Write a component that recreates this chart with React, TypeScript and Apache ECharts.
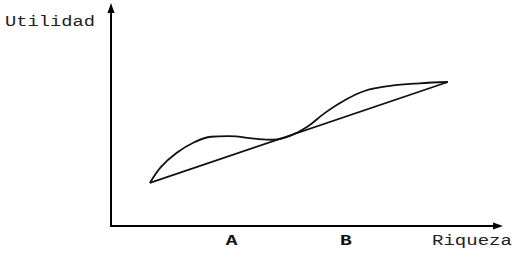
import React, { useEffect, useRef } from "react";
import * as echarts from "echarts";

// Utility curve (wealth, utility)
const curveWealth = [10.1, 13.0, 17.0, 21.5, 26.0, 30.5, 37.9, 42.1, 46.5, 51.0, 55.5, 60.5, 66.0, 72.5, 80.0, 87.5];
const curveUtility = [20.2, 27.8, 34.3, 39.2, 41.9, 42.2, 40.9, 40.5, 42.3, 46.6, 53.0, 58.8, 63.5, 65.8, 67.0, 67.6];
// Straight chord between the ends
const chordWealth = [10.1, 87.5];
const chordUtility = [20.2, 67.6];
// Marked wealth levels on the horizontal axis
const markNames = ["A", "B"];
const markWealth = [31.3, 61.0];
const yAxisName = "Utilidad";
const xAxisName = "Riqueza";

const FONT = "'Liberation Mono', 'Courier New', monospace";

export default function App() {
  const ref = useRef<HTMLDivElement>(null);
  useEffect(() => {
    if (!ref.current) return;
    const chart = echarts.init(ref.current, null, { renderer: "svg" });
    const axisCommon = {
      type: "value" as const,
      min: 0,
      max: 100,
      axisTick: { show: false },
      axisLabel: { show: false },
      splitLine: { show: false },
    };
    chart.setOption({
      animation: false,
      backgroundColor: "#fff",
      grid: { left: 111, right: 19, top: 13, bottom: 28 },
      xAxis: {
        ...axisCommon,
        axisLine: {
          show: true,
          symbol: ["none", "triangle"],
          symbolSize: [7, 10],
          symbolOffset: [0, 2],
          lineStyle: { color: "#000", width: 2 },
        },
      },
      yAxis: {
        ...axisCommon,
        axisLine: {
          show: true,
          symbol: ["none", "triangle"],
          symbolSize: [7, 10],
          symbolOffset: [0, 5],
          lineStyle: { color: "#000", width: 2 },
        },
      },
      series: [
        {
          type: "line",
          data: curveWealth.map((w, i) => [w, curveUtility[i]]),
          smooth: 0.4,
          showSymbol: false,
          lineStyle: { color: "#111", width: 1.8 },
        },
        {
          type: "line",
          data: chordWealth.map((w, i) => [w, chordUtility[i]]),
          showSymbol: false,
          lineStyle: { color: "#111", width: 1.8 },
        },
      ],
    });
    const graphics: any[] = [
      {
        type: "text",
        x: 5,
        y: 22,
        scaleX: 1.25,
        style: { text: yAxisName, font: `15px ${FONT}`, fill: "#222", verticalAlign: "middle" },
      },
      {
        type: "text",
        x: 432,
        y: 241,
        scaleX: 1.27,
        style: { text: xAxisName, font: `15px ${FONT}`, fill: "#222", verticalAlign: "middle" },
      },
    ];
    markNames.forEach((n, i) => {
      const px = chart.convertToPixel({ xAxisIndex: 0 }, markWealth[i]) as number;
      graphics.push({
        type: "text",
        x: px,
        y: 241,
        scaleX: 1.3,
        style: { text: n, font: `bold 15px ${FONT}`, fill: "#111", align: "center", verticalAlign: "middle" },
      });
    });
    chart.setOption({ graphic: graphics });
    return () => chart.dispose();
  }, []);
  return (
    <div
      ref={ref}
      style={{ position: "fixed", left: 0, top: 0, width: 515, height: 254 }}
    />
  );
}
